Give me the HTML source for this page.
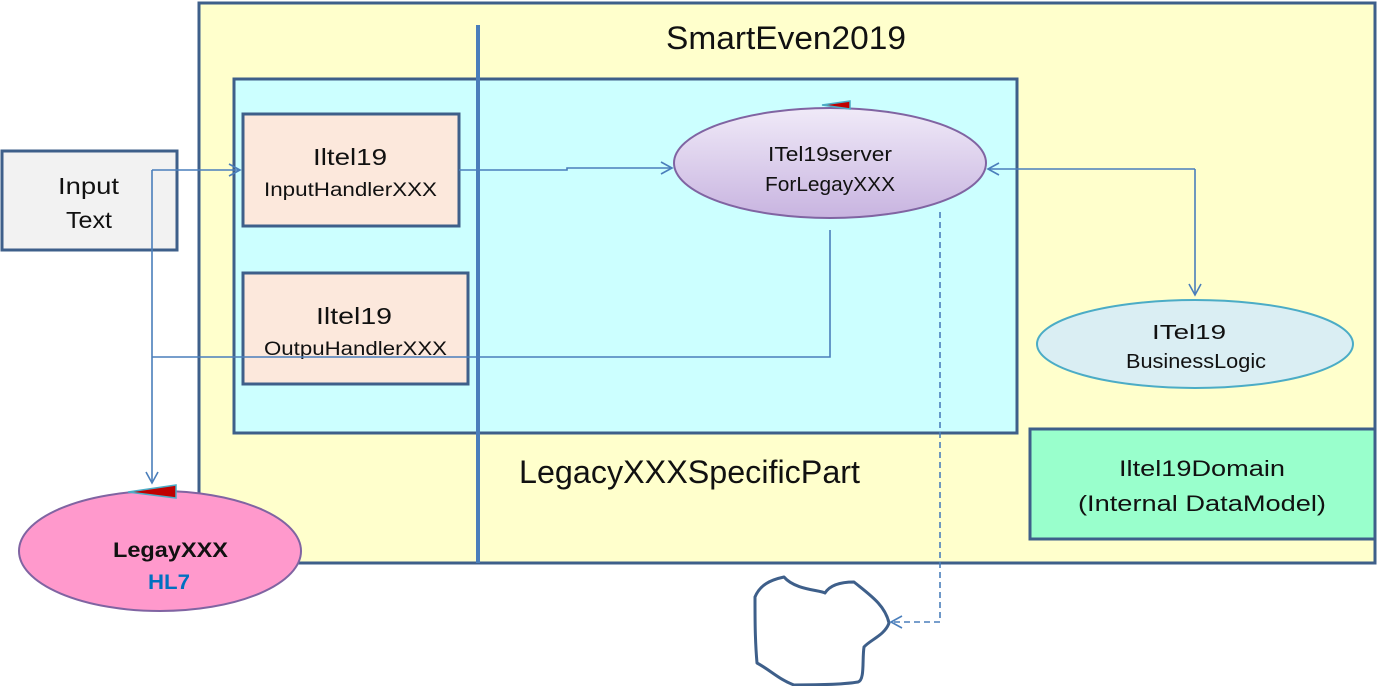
<!DOCTYPE html>
<html><head><meta charset="utf-8"><style>
html,body{margin:0;padding:0;background:#fff;width:1378px;height:686px;overflow:hidden}
svg{display:block}
text{font-family:"Liberation Sans",sans-serif;fill:#111}
</style></head><body>
<svg width="1378" height="686" viewBox="0 0 1378 686" xmlns="http://www.w3.org/2000/svg">
<defs>
<linearGradient id="lav" x1="0" y1="0" x2="0" y2="1"><stop offset="0" stop-color="#f0eaf8"/><stop offset="1" stop-color="#c8b4e0"/></linearGradient>
<marker id="ar" markerWidth="14" markerHeight="14" refX="12" refY="7" orient="auto" markerUnits="userSpaceOnUse"><path d="M1,1 L12,7 L1,13" fill="none" stroke="#4a7ebb" stroke-width="1.6"/></marker>
</defs>
<rect x="199" y="3" width="1176" height="560" fill="#ffffcc" stroke="#3e5f8a" stroke-width="3"/>
<rect x="234" y="79" width="783" height="354" fill="#ccffff" stroke="#3e5f8a" stroke-width="3"/>
<line x1="478" y1="25" x2="478" y2="563" stroke="#4a7ebb" stroke-width="4"/>
<text x="666" y="49" font-size="32" textLength="240" lengthAdjust="spacingAndGlyphs">SmartEven2019</text>
<text x="519" y="483" font-size="32" textLength="341" lengthAdjust="spacingAndGlyphs">LegacyXXXSpecificPart</text>
<rect x="2" y="151" width="175" height="99" fill="#f2f2f2" stroke="#3e5f8a" stroke-width="3"/>
<text x="58" y="194" font-size="23" textLength="61" lengthAdjust="spacingAndGlyphs">Input</text>
<text x="66" y="228" font-size="23" textLength="46" lengthAdjust="spacingAndGlyphs">Text</text>
<rect x="243" y="114" width="216" height="112" fill="#fce8dc" stroke="#3e5f8a" stroke-width="3"/>
<text x="313" y="165" font-size="23" textLength="74" lengthAdjust="spacingAndGlyphs">Iltel19</text>
<text x="264" y="196" font-size="19" textLength="173" lengthAdjust="spacingAndGlyphs">InputHandlerXXX</text>
<rect x="243" y="273" width="225" height="111" fill="#fce8dc" stroke="#3e5f8a" stroke-width="3"/>
<text x="316" y="324" font-size="23" textLength="76" lengthAdjust="spacingAndGlyphs">Iltel19</text>
<text x="264" y="355" font-size="19" textLength="183" lengthAdjust="spacingAndGlyphs">OutpuHandlerXXX</text>
<ellipse cx="830" cy="163" rx="156" ry="55" fill="url(#lav)" stroke="#8064a2" stroke-width="2"/>
<text x="768" y="161" font-size="20" textLength="124" lengthAdjust="spacingAndGlyphs">ITel19server</text>
<text x="765" y="191" font-size="20" textLength="130" lengthAdjust="spacingAndGlyphs">ForLegayXXX</text>
<polygon points="822,105 850,101 850,109" fill="#c00000" stroke="#4bacc6" stroke-width="1.5"/>
<ellipse cx="1195" cy="344" rx="158" ry="44" fill="#daeef3" stroke="#4bacc6" stroke-width="2"/>
<text x="1152" y="339" font-size="20" textLength="74" lengthAdjust="spacingAndGlyphs">ITel19</text>
<text x="1126" y="368" font-size="20" textLength="140" lengthAdjust="spacingAndGlyphs">BusinessLogic</text>
<rect x="1030" y="429" width="345" height="110" fill="#99ffcc" stroke="#3e5f8a" stroke-width="3"/>
<text x="1119" y="476" font-size="22" textLength="166" lengthAdjust="spacingAndGlyphs">Iltel19Domain</text>
<text x="1078" y="511" font-size="22" textLength="248" lengthAdjust="spacingAndGlyphs">(Internal DataModel)</text>
<ellipse cx="160" cy="551" rx="141" ry="60" fill="#ff99cc" stroke="#8064a2" stroke-width="2"/>
<text x="113" y="557" font-size="21" font-weight="bold" textLength="115" lengthAdjust="spacingAndGlyphs">LegayXXX</text>
<text x="148" y="589" font-size="21" font-weight="bold" textLength="42" lengthAdjust="spacingAndGlyphs" style="fill:#0070c0">HL7</text>
<polygon points="128,492 176,485 176,498" fill="#c00000" stroke="#4bacc6" stroke-width="1.5"/>
<path d="M784,577 C795,590 820,590 825,593 C830,585 840,582 854,582 C870,595 885,605 889,623 C885,635 870,640 864,647 C862,660 865,680 858,682 C840,685 810,685 794,685 C780,680 770,670 757,663 C755,640 755,620 755,597 C760,585 770,580 784,577 Z" fill="none" stroke="#3e5f8a" stroke-width="3" stroke-linejoin="round"/>
<g fill="none" stroke="#4a7ebb" stroke-width="1.6">
<path d="M152,170 L240,170" marker-end="url(#ar)"/>
<path d="M152,170 L152,483" marker-end="url(#ar)"/>
<path d="M152,357 L830,357 L830,230"/>
<path d="M459,170 L567,170 L567,168 L672,168" marker-end="url(#ar)"/>
<path d="M1195,169 L988,169" marker-end="url(#ar)"/>
<path d="M1195,169 L1195,295" marker-end="url(#ar)"/>
<path d="M940,212 L940,622 L891,622" stroke-dasharray="6,4" marker-end="url(#ar)"/>
</g>
</svg>
</body></html>
